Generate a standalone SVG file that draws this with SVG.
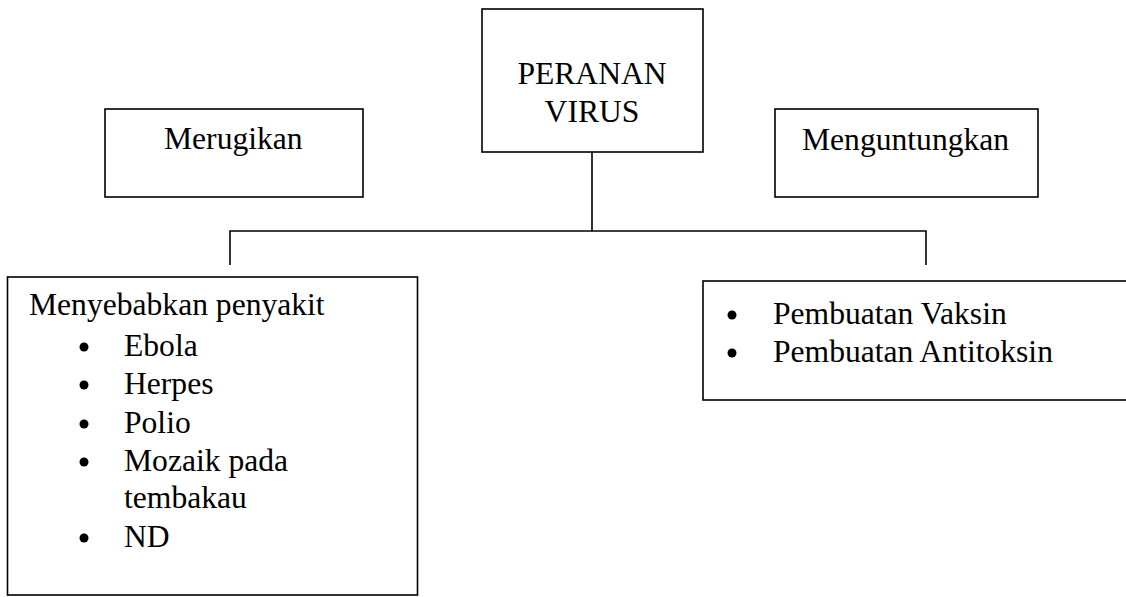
<svg xmlns="http://www.w3.org/2000/svg" width="1126" height="597" viewBox="0 0 1126 597">
<style>
.box{fill:#fff;stroke:#000;stroke-width:1.6}
.ln{fill:none;stroke:#000;stroke-width:1.6}
.t{font-family:'Liberation Serif','Times New Roman',Times,serif;font-size:31.6px;fill:#000}
.c{text-anchor:middle}
</style>
<rect width="1126" height="597" fill="#fff"/>
<g id="connectors">
<path class="ln" d="M592 152 V231 M230 265 V231 H926 V265"/>
</g>
<g id="peranan">
<rect class="box" x="482" y="9" width="221" height="143"/>
<text class="t c" x="592" y="84">PERANAN</text>
<text class="t c" x="592" y="122">VIRUS</text>
</g>
<g id="merugikan">
<rect class="box" x="105" y="109" width="258" height="88"/>
<text class="t" x="164" y="149">Merugikan</text>
</g>
<g id="menguntungkan">
<rect class="box" x="775" y="109" width="263" height="88"/>
<text class="t" x="802" y="150">Menguntungkan</text>
</g>
<g id="penyakit">
<rect class="box" x="7.5" y="277" width="410" height="318"/>
<text class="t" x="29" y="315">Menyebabkan penyakit</text>
<g fill="#000">
<circle cx="84" cy="347" r="4.5"/>
<circle cx="84" cy="385" r="4.5"/>
<circle cx="84" cy="424" r="4.5"/>
<circle cx="84" cy="462" r="4.5"/>
<circle cx="84" cy="538" r="4.5"/>
</g>
<text class="t" x="124" y="356">Ebola</text>
<text class="t" x="124" y="394">Herpes</text>
<text class="t" x="124" y="433">Polio</text>
<text class="t" x="124" y="471">Mozaik pada</text>
<text class="t" x="124" y="508">tembakau</text>
<text class="t" x="124" y="547">ND</text>
</g>
<g id="manfaat">
<rect class="box" x="703" y="281" width="440" height="119"/>
<g fill="#000">
<circle cx="732" cy="315" r="4.5"/>
<circle cx="732" cy="353" r="4.5"/>
</g>
<text class="t" x="773" y="324">Pembuatan Vaksin</text>
<text class="t" x="773" y="362">Pembuatan Antitoksin</text>
</g>
</svg>
